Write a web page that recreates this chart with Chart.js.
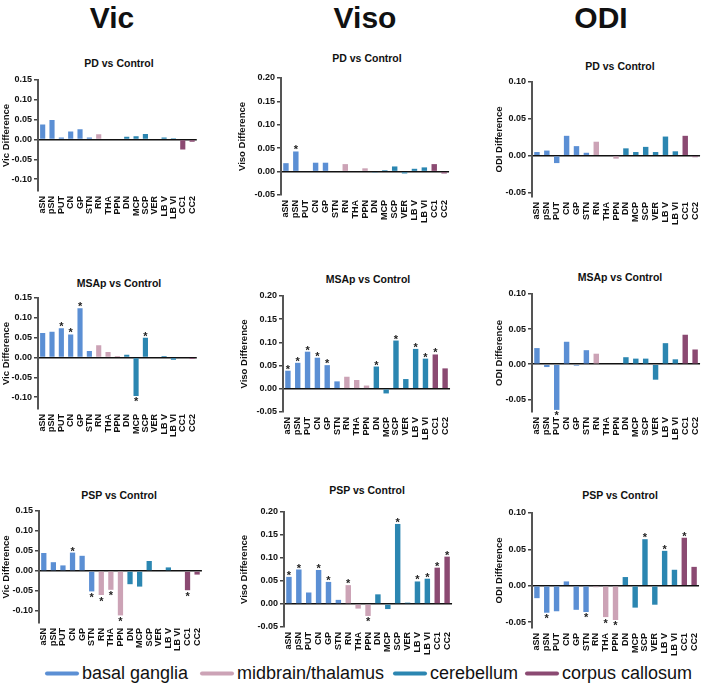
<!DOCTYPE html>
<html><head><meta charset="utf-8">
<script src="https://cdn.jsdelivr.net/npm/chart.js@4/dist/chart.umd.min.js"></script>
<style>
body{margin:0;background:#fff;width:709px;height:690px;position:relative;overflow:hidden;font-family:Arial,"Liberation Sans",sans-serif;color:#111;}
.hdr{position:absolute;font-weight:bold;font-size:30px;transform:translate(-50%,-50%);white-space:nowrap;}
.ttl{position:absolute;font-weight:bold;font-size:10.5px;transform:translate(-50%,-50%);white-space:nowrap;}
canvas{position:absolute;}
.leg{position:absolute;display:flex;align-items:center;font-size:18px;white-space:nowrap;transform:translateY(-50%);}
.leg span.ln{display:inline-block;width:34px;height:4px;margin-right:3px;border-radius:2px;}
</style></head><body>
<script>
// ---------- DATA ----------
const categories = ['aSN','pSN','PUT','CN','GP','STN','RN','THA','PPN','DN','MCP','SCP','VER','LB V','LB VI','CC1','CC2'];
const groupNames = ['basal ganglia','midbrain/thalamus','cerebellum','corpus callosum'];
const categoryGroup = [0,0,0,0,0,0,1,1,1,2,2,2,2,2,2,3,3];

const vicTicks  = [-0.10,-0.05,0.00,0.05,0.10,0.15];
const visoTicks = [-0.05,0.00,0.05,0.10,0.15,0.20];
const odiTicks  = [-0.05,0.00,0.05,0.10];

const vicPD    = [0.038,0.049,0.005,0.020,0.026,0.005,0.013,0,0.002,0.007,0.008,0.014,0,0.005,0.003,-0.025,-0.006];
const visoPD   = [0.018,0.043,0,0.019,0.019,0,0.016,0,0.007,-0.001,0.003,0.011,-0.004,0.006,0.009,0.016,-0.004];
const odiPD    = [0.005,0.007,-0.010,0.027,0.013,0.004,0.019,0,-0.004,0.010,0.005,0.012,0.005,0.026,0.006,0.027,-0.002];
const vicMSAp  = [0.062,0.065,0.074,0.058,0.124,0.016,0.031,0.014,0.004,0.007,-0.097,0.050,0,0.004,-0.006,0,-0.004];
const visoMSAp = [0.039,0.056,0.080,0.067,0.051,0.016,0.026,0.019,0.007,0.048,-0.010,0.104,0.021,0.086,0.065,0.074,0.044];
const odiMSAp  = [0.023,-0.004,-0.065,0.032,-0.002,0.020,0.015,0,0,0.010,0.008,0.008,-0.022,0.030,0.007,0.042,0.021];
const vicPSP   = [0.045,0.022,0.014,0.046,0.038,-0.051,-0.060,-0.047,-0.111,-0.033,-0.039,0.025,-0.002,0.009,0,-0.048,-0.009];
const visoPSP  = [0.059,0.075,0.025,0.074,0.048,0.009,0.041,-0.010,-0.026,0.021,-0.011,0.174,0.003,0.049,0.055,0.079,0.103];
const odiPSP   = [-0.017,-0.037,-0.035,0.006,-0.033,-0.036,-0.002,-0.043,-0.047,0.012,-0.030,0.064,-0.026,0.048,0.022,0.066,0.026];

const sigVicPD    = [];
const sigVisoPD   = ['pSN'];
const sigOdiPD    = [];
const sigVicMSAp  = ['PUT','CN','GP','MCP','SCP'];
const sigVisoMSAp = ['aSN','pSN','PUT','CN','GP','DN','SCP','LB V','LB VI','CC1'];
const sigOdiMSAp  = ['PUT'];
const sigVicPSP   = ['CN','STN','RN','THA','PPN','CC1'];
const sigVisoPSP  = ['aSN','pSN','CN','GP','RN','PPN','SCP','LB V','LB VI','CC1','CC2'];
const sigOdiPSP   = ['pSN','STN','THA','PPN','SCP','LB V','CC1'];

const columnHeaders = ['Vic','Viso','ODI'];
const rowTitles = ['PD vs Control','MSAp vs Control','PSP vs Control'];

// ---------- STYLE / LAYOUT ----------
const groupColors = ['#5b8fd4','#cca3b6','#2b86b1','#8b4a72'];
const FONT = 'Arial, "Liberation Sans", sans-serif';

const headerPos = [[112,18],[365,18],[601,18]];
const titlePos = [
  [[119,63],[367,58],[620,66]],
  [[119,283],[368,279],[620,277]],
  [[119,495],[367,490],[620,495]]
];

const panels = [
  {data:vicPD,   sig:sigVicPD,   ticks:vicTicks,  min:-0.13, max:0.15, yt:'Vic Difference',  axisX:38,  top:80,  bottom:191, right:205, wy:38, tx:6},
  {data:visoPD,  sig:sigVisoPD,  ticks:visoTicks, min:-0.05, max:0.20, yt:'Viso Difference', axisX:281, top:78,  bottom:195, right:457, wy:45, tx:242.5},
  {data:odiPD,   sig:sigOdiPD,   ticks:odiTicks,  min:-0.056,max:0.10, yt:'ODI Difference',  axisX:532, top:82,  bottom:197, right:708, wy:40, tx:499},
  {data:vicMSAp, sig:sigVicMSAp, ticks:vicTicks,  min:-0.13, max:0.15, yt:'Vic Difference',  axisX:38,  top:298, bottom:409, right:205, wy:38, tx:6},
  {data:visoMSAp,sig:sigVisoMSAp,ticks:visoTicks, min:-0.05, max:0.20, yt:'Viso Difference', axisX:283, top:296, bottom:412, right:458, wy:45, tx:244},
  {data:odiMSAp, sig:sigOdiMSAp, ticks:odiTicks,  min:-0.068,max:0.10, yt:'ODI Difference',  axisX:532, top:294, bottom:412, right:708, wy:40, tx:499},
  {data:vicPSP,  sig:sigVicPSP,  ticks:vicTicks,  min:-0.13, max:0.15, yt:'Vic Difference',  axisX:39,  top:511, bottom:623, right:210, wy:39, tx:6},
  {data:visoPSP, sig:sigVisoPSP, ticks:visoTicks, min:-0.05, max:0.20, yt:'Viso Difference', axisX:284, top:512, bottom:627, right:460, wy:45, tx:244},
  {data:odiPSP,  sig:sigOdiPSP,  ticks:odiTicks,  min:-0.058,max:0.10, yt:'ODI Difference',  axisX:532, top:513, bottom:628, right:707, wy:40, tx:499}
];

const legendPos = [[45,673],[200,673],[393,673],[525,673]];

// ---------- RENDER ----------
columnHeaders.forEach((h,i)=>{
  const d=document.createElement('div'); d.className='hdr'; d.textContent=h;
  d.style.left=headerPos[i][0]+'px'; d.style.top=headerPos[i][1]+'px'; document.body.appendChild(d);
});
rowTitles.forEach((t,r)=>{
  for(let c=0;c<3;c++){
    const d=document.createElement('div'); d.className='ttl'; d.textContent=t;
    d.style.left=titlePos[r][c][0]+'px'; d.style.top=titlePos[r][c][1]+'px'; document.body.appendChild(d);
  }
});
groupNames.forEach((g,i)=>{
  const d=document.createElement('div'); d.className='leg';
  d.style.left=legendPos[i][0]+'px'; d.style.top=legendPos[i][1]+'px';
  const ln=document.createElement('span'); ln.className='ln'; ln.style.background=groupColors[i];
  const tx=document.createElement('span'); tx.textContent=g;
  d.appendChild(ln); d.appendChild(tx); document.body.appendChild(d);
});

const starPlugin = {
  id:'stars',
  afterDatasetsDraw(chart, args, opts){
    const meta = chart.getDatasetMeta(0);
    const vals = chart.data.datasets[0].data;
    const ctx = chart.ctx;
    ctx.save();
    ctx.font = 'bold 11px ' + FONT;
    ctx.fillStyle = '#222';
    ctx.textAlign = 'center';
    ctx.textBaseline = 'alphabetic';
    chart.data.labels.forEach((lab,i)=>{
      if(!opts.list || !opts.list.includes(lab)) return;
      const el = meta.data[i];
      if (vals[i] >= 0) ctx.fillText('*', el.x, el.y + 2);
      else ctx.fillText('*', el.x, el.y + 9.5);
    });
    ctx.restore();
  }
};

const TITLE_FS = 9.5, PAD_TOP = 8, XH = 30, PAD_R = 3;
panels.forEach(p=>{
  const lc = p.axisX - p.wy;
  const tc = p.top - PAD_TOP;
  const w = p.right - lc + PAD_R;
  const h = p.bottom - tc + XH;
  const cv = document.createElement('canvas');
  cv.width = w; cv.height = h;
  cv.style.left = lc+'px'; cv.style.top = tc+'px';
  cv.style.width = w+'px'; cv.style.height = h+'px';
  document.body.appendChild(cv);
  const titlePad = Math.max(0, p.tx - lc - TITLE_FS*1.2/2);
  new Chart(cv, {
    type:'bar',
    data:{labels:categories, datasets:[{
      data:p.data,
      backgroundColor:categoryGroup.map(g=>groupColors[g]),
      borderWidth:0, barPercentage:0.55, categoryPercentage:1
    }]},
    options:{
      responsive:false, animation:false, devicePixelRatio:1,
      layout:{padding:{top:PAD_TOP,right:PAD_R,left:0,bottom:0}},
      plugins:{legend:{display:false}, tooltip:{enabled:false}, title:{display:false}, stars:{list:p.sig}},
      scales:{
        x:{
          offset:true,
          grid:{display:false, drawTicks:false},
          border:{display:false},
          ticks:{autoSkip:false, maxRotation:90, minRotation:90, padding:5, color:'#111',
                 font:{family:FONT, size:9, weight:'bold'}},
          afterFit(s){ s.height = XH; }
        },
        y:{
          min:p.min, max:p.max,
          afterBuildTicks(s){ s.ticks = p.ticks.map(v=>({value:v})); },
          ticks:{callback:v=>Number(v).toFixed(2), color:'#111', padding:2,
                 font:{family:FONT, size:9, weight:'bold'}},
          grid:{
            drawTicks:true, tickLength:4, tickColor:'#444', tickWidth:1.5,
            color:ctx=> (ctx.tick && Math.abs(ctx.tick.value)<1e-9) ? '#111' : 'rgba(0,0,0,0)',
            lineWidth:1.5
          },
          border:{display:true, color:'#555', width:2},
          title:{display:true, text:p.yt, color:'#111', padding:{top:titlePad,bottom:0},
                 font:{family:FONT, size:TITLE_FS, weight:'bold'}},
          afterFit(s){ s.width = p.wy; }
        }
      }
    },
    plugins:[starPlugin]
  });
});
</script>
</body></html>
